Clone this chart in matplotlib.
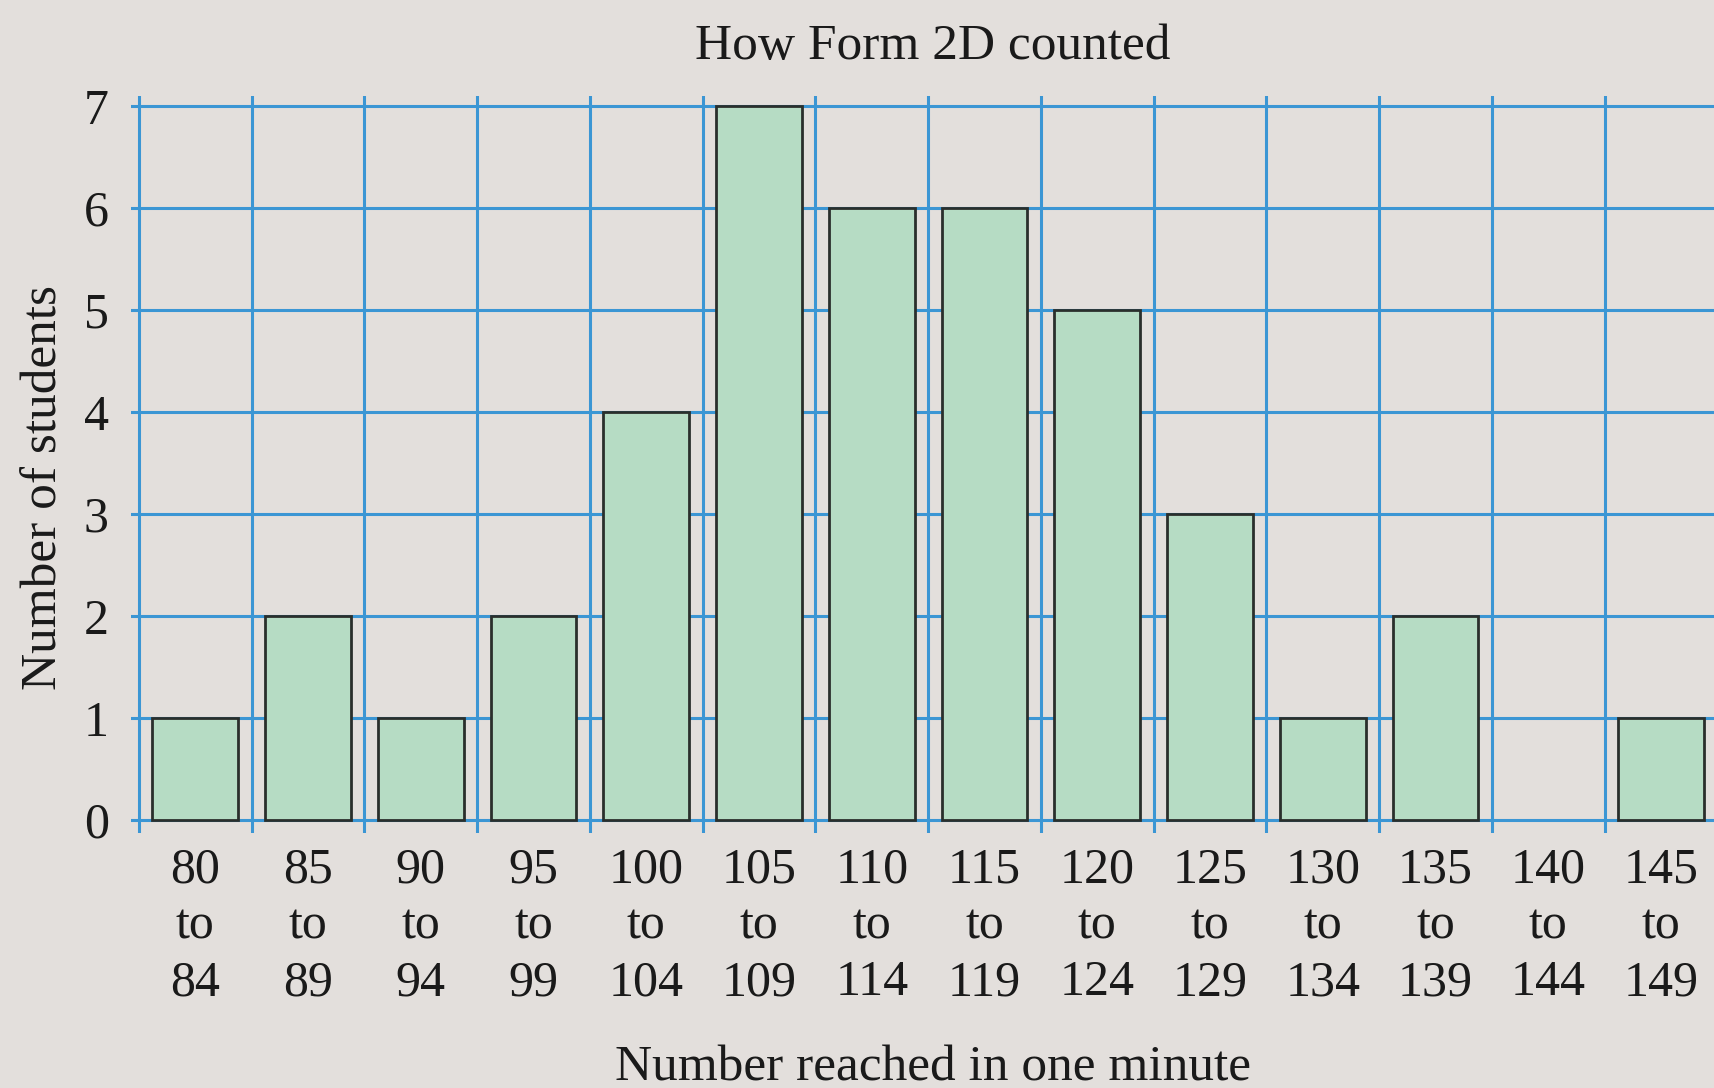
import matplotlib
matplotlib.use("Agg")
import matplotlib.pyplot as plt
import numpy as np

# class intervals and counts
starts = [80, 85, 90, 95, 100, 105, 110, 115, 120, 125, 130, 135, 140, 145]
ends = [84, 89, 94, 99, 104, 109, 114, 119, 124, 129, 134, 139, 144, 149]
counts = [1, 2, 1, 2, 4, 7, 6, 6, 5, 3, 1, 2, 0, 1]
yticks = [0, 1, 2, 3, 4, 5, 6, 7]

bg = "#e3dfdc"
bar_fill = "#b6dcc4"
bar_edge = "#2a2f2c"
grid_blue = "#3b96d4"

plt.rcParams["font.family"] = ["Liberation Serif", "DejaVu Serif"]

fig = plt.figure(figsize=(17.15, 10.88), dpi=100, facecolor=bg)
ax = fig.add_axes([131 / 1715, 1 - 833 / 1088, 1 - 131 / 1715, (833 - 96) / 1088])
ax.set_facecolor(bg)

x = np.arange(len(counts))
counts = np.array(counts)
labels = [f"{a}\nto\n{b}" for a, b in zip(starts, ends)]

ax.set_xlim(-0.07, len(counts) - 0.02)
ax.set_ylim(-0.13, 7.1)

# blue grid paper
for i in range(len(counts)):
    ax.axvline(i, color=grid_blue, lw=2.2, zorder=1)
for v in yticks:
    ax.axhline(v, color=grid_blue, lw=2.2, zorder=1)

# empty classes get no outline at all
nz = counts > 0
ax.bar(x[nz] + 0.5, counts[nz], width=0.76, color=bar_fill,
       edgecolor=bar_edge, linewidth=2.0, zorder=3)

ax.set_xticks(x + 0.5)
ax.set_xticklabels(labels, fontsize=36, linespacing=1.28, color="#1a1a1a")
ax.set_yticks(yticks)
ax.set_yticklabels([str(v) for v in yticks], fontsize=36, color="#1a1a1a")
ax.tick_params(axis="x", length=0, pad=10)
ax.tick_params(axis="y", length=0, pad=16)
for s in ax.spines.values():
    s.set_visible(False)

fig.text(933 / 1715, 1 - 47 / 1088, "How Form 2D counted", fontsize=37,
         ha="center", va="center", color="#1a1a1a")
fig.text(933 / 1715, 1 - 1068 / 1088, "Number reached in one minute",
         fontsize=37, ha="center", va="center", color="#1a1a1a")
fig.text(44 / 1715, 1 - 488 / 1088, "Number of students", fontsize=37,
         rotation=90, ha="center", va="center", color="#1a1a1a")

fig.savefig("out.png", dpi=100, facecolor=bg)
